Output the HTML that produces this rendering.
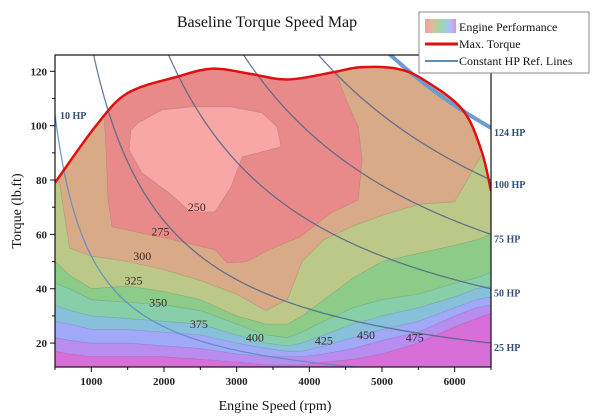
<!DOCTYPE html>
<html><head><meta charset="utf-8">
<style>
body{margin:0;background:#fff;}
svg{display:block;font-family:"Liberation Serif",serif;}
</style></head>
<body>
<svg id="chart" width="600" height="418" viewBox="0 0 600 418" xmlns="http://www.w3.org/2000/svg">
<defs>
<linearGradient id="sw" x1="0" x2="1" y1="0" y2="0">
<stop offset="0" stop-color="#e88a8a"/><stop offset="0.25" stop-color="#d8aa88"/><stop offset="0.45" stop-color="#8ccc88"/><stop offset="0.7" stop-color="#88c0d8"/><stop offset="0.85" stop-color="#a0a8f8"/><stop offset="1" stop-color="#d86ed8"/>
</linearGradient>
<clipPath id="plotclip"><rect x="55" y="55" width="436" height="312"/></clipPath>
<clipPath id="torqueclip"><path id="tclip" d=""/></clipPath>
</defs>
<g id="fills" clip-path="url(#plotclip)"><g id="bands" clip-path="url(#torqueclip)"></g></g>
<g id="hplines" clip-path="url(#plotclip)"></g>
<g id="curve" clip-path="url(#plotclip)"></g>
<g id="axes"></g>
<g id="labels"></g>
<text x="267" y="27" text-anchor="middle" font-size="16" fill="#111">Baseline Torque Speed Map</text>
<text x="275" y="410" text-anchor="middle" font-size="14" fill="#111">Engine Speed (rpm)</text>
<text transform="translate(21,211) rotate(-90)" text-anchor="middle" font-size="14" fill="#111">Torque (lb.ft)</text>
<g>
<rect x="419" y="12" width="170" height="61" fill="#fff" stroke="#888" stroke-width="1"/>
<rect x="425" y="19" width="31" height="14" fill="url(#sw)" opacity="0.8"/>
<text x="459" y="31" font-size="12" fill="#111">Engine Performance</text>
<line x1="425" y1="44" x2="458" y2="44" stroke="#e01010" stroke-width="3"/>
<text x="459" y="48" font-size="12" fill="#111">Max. Torque</text>
<line x1="425" y1="61" x2="458" y2="61" stroke="#5b8cc4" stroke-width="2"/>
<text x="459" y="65" font-size="12" fill="#111">Constant HP Ref. Lines</text>
</g>
</svg>
<script>
const NS="http://www.w3.org/2000/svg";
// ---- data ----
const curveRpm=[500,1065,1500,2180,2676,3200,3708,4355,4700,5196,5567,6104,6366,6500];
const curveTorque=[79,100,112,118,121,119,117,119.8,121.5,121,117,106,91,76];
const bandRpm=[500,700,1000,1500,2000,2500,3000,3400,3700,3900,4200,4600,5000,5500,6000,6300,6500];
const band1=[17,16,15,15,15,14,13,12,12,12,13,14,16,20,26,29,31];
const band2=[22,21,20,20,19,18,16,15,15,15,16,18,21,24,30,33,34];
const band3=[28,27,25,25,24,23,20,18,17,17,19,22,25,28,33,36,37];
const band4=[34,32,30,29,28,27,23,20,19,20,23,27,30,33,37,40,41];
const band5=[42,40,36,35,34,32,27,23,22,24,28,33,36,38,42,44,46];
const band6=[50,45,40,41,39,36,30,27,27,30,36,44,50,53,56,58,60];
const band7=[90,55,52,50,47,43,38,32,36,50,58,63,67,71,72,86,95];
const redRpm=[1120,1120,1175,1202,1230,1285,2125,2703,2868,3130,3447,3874,4300,4672,4727,4672,4507,4397,4397];
const redTorque=[131.5,109.5,104,91.1,72.7,62.8,58,54.3,49.5,49.9,54.3,59.1,67.9,72.7,87.4,99.5,109.5,117.5,131.5];
const pinkRpm=[1547,1519,1698,2070,2359,2703,2924,3075,3612,3557,3350,2924,2386,1973,1643];
const pinkTorque=[98.4,91.1,82.6,75.3,68.3,68.3,77.5,88.5,92.2,99.5,104.7,106.9,106.9,105.8,101.0];
const hpValues=[10,25,50,75,100,124];
const hpLabels=["10 HP","25 HP","50 HP","75 HP","100 HP","124 HP"];
const contourLevels=["250","275","300","325","350","375","400","425","450","475"];
const contourLabelRpm=[2450,1950,1700,1580,1920,2480,3250,4200,4780,5450];
const contourLabelTorque=[70,61,52,43,35,27,22,21,23,22];
const xTicks=[1000,2000,3000,4000,5000,6000];
const yTicks=[20,40,60,80,100,120];
// ---- axes ----
const X0=55,X1=491,Y0=367,Y1=55,RMIN=500,RMAX=6500,TMIN=11.2,TMAX=126;
const sx=r=>X0+(r-RMIN)/(RMAX-RMIN)*(X1-X0);
const sy=t=>Y0-(t-TMIN)/(TMAX-TMIN)*(Y0-Y1);
function el(tag,attrs,parent){const e=document.createElementNS(NS,tag);for(const k in attrs)e.setAttribute(k,attrs[k]);parent.appendChild(e);return e;}
const bands=document.getElementById('bands');
// torque clip
let cd="M"+sx(curveRpm[0])+","+sy(curveTorque[0]);
for(let i=1;i<curveRpm.length;i++){
  const p0=[sx(curveRpm[Math.max(i-2,0)]),sy(curveTorque[Math.max(i-2,0)])],p1=[sx(curveRpm[i-1]),sy(curveTorque[i-1])],p2=[sx(curveRpm[i]),sy(curveTorque[i])],p3=[sx(curveRpm[Math.min(i+1,curveRpm.length-1)]),sy(curveTorque[Math.min(i+1,curveRpm.length-1)])];
  cd+=" C"+(p1[0]+(p2[0]-p0[0])/6)+","+(p1[1]+(p2[1]-p0[1])/6)+" "+(p2[0]-(p3[0]-p1[0])/6)+","+(p2[1]-(p3[1]-p1[1])/6)+" "+p2[0]+","+p2[1];
}
document.getElementById('tclip').setAttribute('d',cd+" L"+(X1+5)+","+(Y0+5)+" L"+(X0-5)+","+(Y0+5)+" Z");
// bands
const base=el('rect',{x:X0-5,y:Y1,width:X1-X0+10,height:Y0-Y1+5,fill:'#d86ed8'},bands);


const bandSets=[band1,band2,band3,band4,band5,band6,band7];
const bandColors=['#b98cef','#a0a8f8','#88c0dc','#86cfa8','#8ccc88','#bcc888','#d9aa88'];
const bandNames=['band-450','band-425','band-400','band-375','band-350','band-325','band-300'];
bandSets.forEach((b,k)=>{
  let d="M"+(X0-5)+","+(Y1-20);
  bandRpm.forEach((r,i)=>{d+=" L"+sx(r)+","+sy(b[i]);});
  d+=" L"+(X1+5)+","+sy(b[b.length-1])+" L"+(X1+5)+","+(Y1-20)+" Z";
  const p=el('path',{d:d,fill:bandColors[k],stroke:'rgba(90,90,90,0.25)','stroke-width':0.7},bands);
  
  
});
function blob(rs,ts,fill,name){
  const pts=rs.map((r,i)=>sx(r)+","+sy(ts[i])).join(" ");
  const p=el('polygon',{points:pts,fill:fill,stroke:'rgba(90,90,90,0.25)','stroke-width':0.7},bands);
  
  
}
blob(redRpm,redTorque,'#e98a8a','band-275');
blob(pinkRpm,pinkTorque,'#f8a6a6','band-250');
// HP lines
const hpG=document.getElementById('hplines');
hpValues.forEach((hp,k)=>{
  let d="";const K=hp*5200;
  for(let r=300;r<=6600;r+=25){const t=K/r;d+=(d?" L":"M")+sx(r)+","+sy(t);}
  const thick=hp===124;
  const p=el('path',{d:d,fill:'none',stroke:thick?'#6b9bd0':(hp===10?'#5b8cc4':'#4f6686'),'stroke-width':thick?4:1.3,opacity:thick?1:0.85},hpG);
  
  
});
// max torque curve
const mc=el('path',{d:cd,fill:'none',stroke:'#e01010','stroke-width':2.5},document.getElementById('curve'));


// axes
const ax=document.getElementById('axes');
const frame=el('rect',{x:X0,y:Y1,width:X1-X0,height:Y0-Y1,fill:'none',stroke:'#111','stroke-width':1.2},ax);


for(let r=500;r<=6500;r+=500){el('line',{x1:sx(r),x2:sx(r),y1:Y0,y2:Y0+(r%1000===0?5:3),stroke:'#111'},ax);}
for(let t=20;t<=120;t+=10){el('line',{x1:X0,x2:X0-(t%20===0?5:3),y1:sy(t),y2:sy(t),stroke:'#111'},ax);}
xTicks.forEach(v=>{const t=el('text',{x:sx(v),y:Y0+18,'text-anchor':'middle','font-size':11,'font-weight':'bold',fill:'#222'},ax);t.textContent=v;

});
yTicks.forEach(v=>{const t=el('text',{x:X0-8,y:sy(v)+4,'text-anchor':'end','font-size':11,'font-weight':'bold',fill:'#222'},ax);t.textContent=v;

});
// labels
const lg=document.getElementById('labels');
contourLevels.forEach((lv,i)=>{const t=el('text',{x:sx(contourLabelRpm[i]),y:sy(contourLabelTorque[i])+4,'text-anchor':'middle','font-size':12,fill:'#3a2a2a'},lg);t.textContent=lv;

});
hpValues.forEach((hp,i)=>{
  let x,y;
  if(hp===10){x=X0+5;y=sy(hp*5200/500)+4;}
  else{x=X1+3;y=sy(hp*5200/6500)+8;}
  const t=el('text',{x:x,y:y,'font-size':10,'font-weight':'bold',fill:'#34507a'},lg);t.textContent=hpLabels[i];
  
  
});
</script>
</body></html>
